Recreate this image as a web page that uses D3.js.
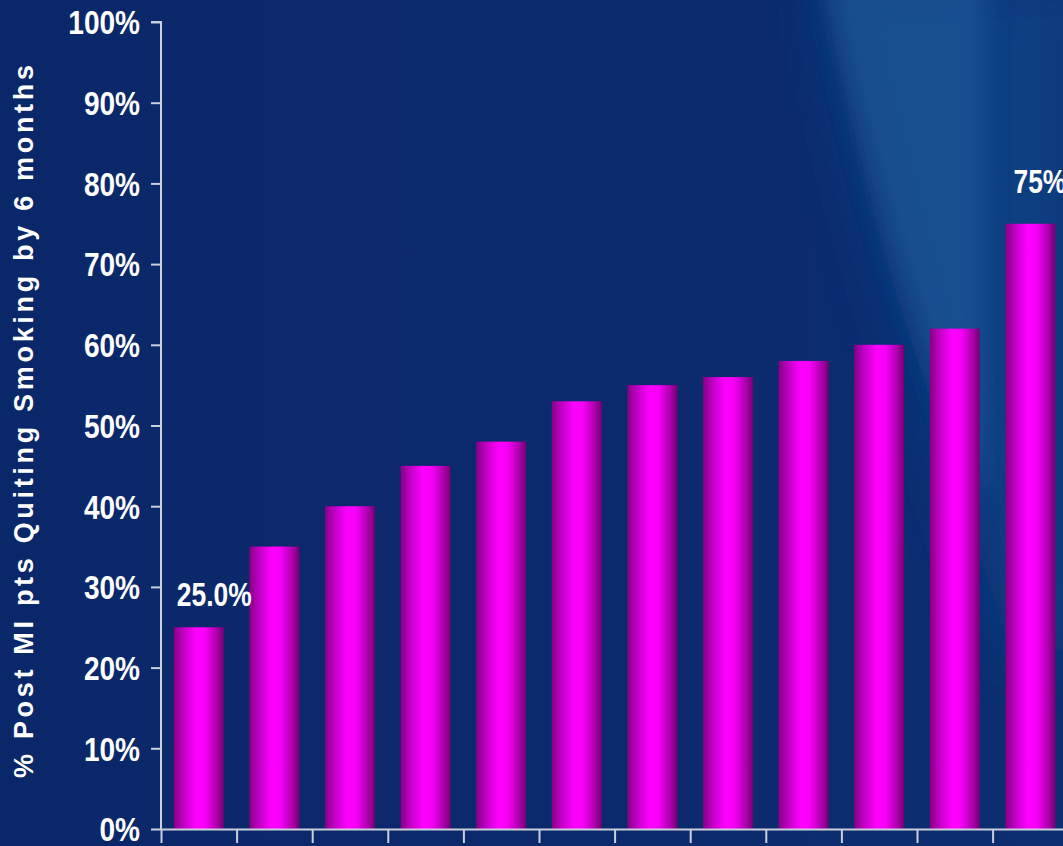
<!DOCTYPE html>
<html><head><meta charset="utf-8">
<script src="https://cdn.jsdelivr.net/npm/d3@7"></script>
<style>
html,body{margin:0;padding:0;background:#0b2a6c;overflow:hidden}
svg{display:block}
</style></head><body>
<svg id="chart" width="1063" height="846"></svg>
<script>
const categories = ["1","2","3","4","5","6","7","8","9","10","11","12"];
const values = [25, 35, 40, 45, 48, 53, 55, 56, 58, 60, 62, 75];
const yTicks = [0,10,20,30,40,50,60,70,80,90,100];
const valueLabels = [{i:0, text:"25.0%"},{i:11, text:"75%"}];
const yTitle = "% Post MI pts Quiting Smoking by 6 months";

const W = 1063, H = 846;
const svg = d3.select("#chart");
const defs = svg.append("defs");

// background
const bg = defs.append("linearGradient").attr("id","bg").attr("x1","0").attr("y1","0").attr("x2","1").attr("y2","0");
bg.append("stop").attr("offset","0").attr("stop-color","#0a2769");
bg.append("stop").attr("offset","0.6").attr("stop-color","#0b2a6d");
bg.append("stop").attr("offset","1").attr("stop-color","#0c2f72");
svg.append("rect").attr("width",W).attr("height",H).attr("fill","url(#bg)");

const blur = defs.append("filter").attr("id","blur").attr("x","-50%").attr("y","-50%").attr("width","200%").attr("height","200%");
blur.append("feGaussianBlur").attr("stdDeviation","12");
const blur2 = defs.append("filter").attr("id","blur2").attr("x","-50%").attr("y","-50%").attr("width","200%").attr("height","200%");
blur2.append("feGaussianBlur").attr("stdDeviation","30");
// broad light area
svg.append("path")
  .attr("d","M818,-30 L1090,-30 L1090,650 L1010,650 Q950,460 905,320 Q860,170 818,-30 Z")
  .attr("fill","#113f82").attr("opacity",0.9).attr("filter","url(#blur2)");
// brighter streak
svg.append("path")
  .attr("d","M822,-30 L985,-30 Q985,220 985,500 Q940,400 905,290 Q860,150 822,-30 Z")
  .attr("fill","#1a5594").attr("opacity",0.75).attr("filter","url(#blur)");

// bar gradient
const bgrad = defs.append("linearGradient").attr("id","barg").attr("x1","0").attr("y1","0").attr("x2","1").attr("y2","0");
bgrad.append("stop").attr("offset","0").attr("stop-color","#860086");
bgrad.append("stop").attr("offset","0.22").attr("stop-color","#c800cc");
bgrad.append("stop").attr("offset","0.45").attr("stop-color","#ff00ff");
bgrad.append("stop").attr("offset","0.62").attr("stop-color","#f800f8");
bgrad.append("stop").attr("offset","0.85").attr("stop-color","#b000b0");
bgrad.append("stop").attr("offset","1").attr("stop-color","#740074");

const x0 = 161, y0 = 829, yTop = 22;
const x = d3.scaleBand().domain(categories).range([x0, x0 + 12*75.6]).paddingInner(0.34).paddingOuter(0.17);
const y = d3.scaleLinear().domain([0,100]).range([y0, yTop]);

// bars
svg.append("g").selectAll("rect").data(values).join("rect")
  .attr("x",(d,i)=>x(categories[i]))
  .attr("y",d=>y(d))
  .attr("width",x.bandwidth())
  .attr("height",d=>y0-y(d))
  .attr("fill","url(#barg)");

// y axis
const axisColor = "#c9d0dc";
const sx = 0.85;
const yAxis = svg.append("g").attr("transform",`translate(${x0},0)`)
  .call(d3.axisLeft(y).tickValues(yTicks).tickFormat(d=>d+"%").tickSize(10).tickPadding(10));
yAxis.select(".domain").attr("stroke",axisColor).attr("stroke-width",2).attr("d",`M-10,${yTop}H0V${y0}`);
yAxis.selectAll(".tick line").attr("stroke",axisColor).attr("stroke-width",2);
yAxis.selectAll(".tick text").attr("fill","#fff")
  .attr("x", -21/sx).attr("transform",`scale(${sx},1)`)
  .style("font-family","'Liberation Sans',Arial,sans-serif")
  .style("font-weight","bold").style("font-size","33px").attr("dy","0.36em");

// x axis: ticks at band boundaries
const step = x.step();
const xAxisScale = d3.scaleLinear().domain([0,12]).range([x0, x0+12*step]);
const xAxis = svg.append("g").attr("transform",`translate(0,${y0})`)
  .call(d3.axisBottom(xAxisScale).tickValues(d3.range(0,13)).tickFormat("").tickSize(14).tickSizeOuter(0));
xAxis.select(".domain").attr("stroke",axisColor).attr("stroke-width",2);
xAxis.selectAll(".tick line").attr("stroke",axisColor).attr("stroke-width",2);

// value labels
const lsx = 0.8;
const lblOff = {0:[3,21], 11:[8,31]};
svg.append("g").selectAll("text").data(valueLabels).join("text")
  .attr("transform",d=>`translate(${x(categories[d.i]) + lblOff[d.i][0]},${y(values[d.i]) - lblOff[d.i][1]}) scale(${lsx},1)`)
  .attr("fill","#fff")
  .style("font-family","'Liberation Sans',Arial,sans-serif")
  .style("font-weight","bold").style("font-size","33px")
  .text(d=>d.text);

// y title
svg.append("text")
  .attr("transform","translate(33,421.5) rotate(-90)")
  .attr("text-anchor","middle")
  .attr("fill","#fff")
  .attr("textLength",713).attr("lengthAdjust","spacing")
  .style("font-family","'Liberation Sans',Arial,sans-serif")
  .style("font-weight","bold").style("font-size","27px")
  .text(yTitle);
</script>
</body></html>
